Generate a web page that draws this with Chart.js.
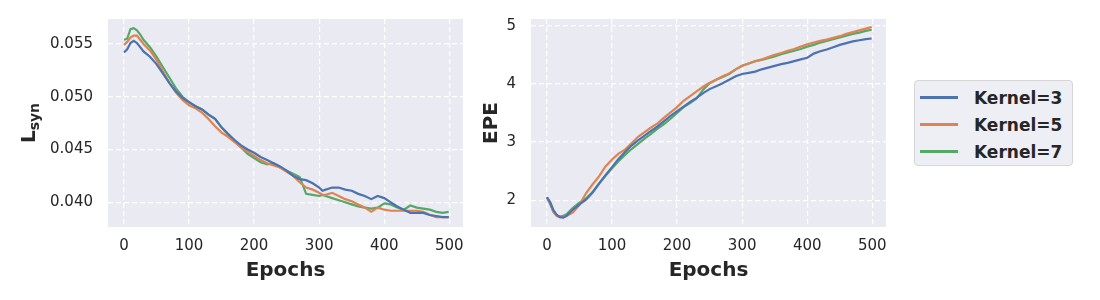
<!DOCTYPE html>
<html lang="en">
<head>
  <meta charset="UTF-8">
  <title>Kernel size: L_syn and EPE</title>
  <script src="https://cdn.jsdelivr.net/npm/chart.js"></script>
</head>
<body style="margin:0;width:1100px;height:300px;background:#fff;position:relative;overflow:hidden;font-family:'DejaVu Sans',sans-serif;">
  <canvas id="lsynChart" width="480" height="300" style="position:absolute;left:0;top:0;"></canvas>
  <canvas id="epeChart" width="420" height="300" style="position:absolute;left:480px;top:0;"></canvas>
  <div id="legend" style="position:absolute;left:914px;top:80px;width:157px;height:84px;
    background:#eeeef5;border:1px solid #d6d6d6;border-radius:4px;box-sizing:content-box;"></div>
  <script>
    // series names + seaborn "deep" colours
    const seriesNames = ['Kernel=3', 'Kernel=5', 'Kernel=7'];
    const seriesColors = ['#4c72b0', '#dd8452', '#55a868'];

    // left panel: L_syn vs epochs
    const lsynEpochs = [0,5,10,15,20,25,30,
      40,50,60,70,80,90,100,110,120,130,140,150,160,170,180,190,200,210,220,230,240,250,260,270,280,290,300,
      305,
      310,320,330,340,350,360,370,380,390,400,410,420,430,440,450,460,470,480,490,
      499];
    const lsynK3 = [0.0542,0.0545,0.0551,0.0553,0.0551,0.0547,0.0543,
      0.0538,0.0531,0.0522,0.0513,0.0505,0.0499,0.0495,0.0491,0.0488,0.0483,0.0479,0.0471,0.0465,0.0459,0.0454,0.0450,0.0447,0.0443,0.0440,0.0437,0.0434,0.0430,0.0425,0.0422,0.0421,0.0418,0.0414,
      0.0411,
      0.0412,0.0414,0.0414,0.0412,0.0411,0.0408,0.0406,0.0403,0.0406,0.0404,0.0400,0.0396,0.0393,0.0390,0.0390,0.0390,0.0388,0.0387,0.0386,
      0.0386];
    const lsynK5 = [0.0549,0.0552,0.0556,0.0558,0.0558,0.0554,0.0550,
      0.0544,0.0535,0.0524,0.0513,0.0504,0.0497,0.0492,0.0489,0.0485,0.0479,0.0472,0.0466,0.0462,0.0457,0.0452,0.0448,0.0444,0.0440,0.0437,0.0435,0.0433,0.0429,0.0425,0.0419,0.0414,0.0412,0.0409,
      0.0407,
      0.0407,0.0409,0.0406,0.0403,0.0401,0.0398,0.0395,0.0391,0.0395,0.0393,0.0392,0.0392,0.0392,0.0392,0.0392,0.0391,0.0388,0.0386,0.0386,
      0.0386];
    const lsynK7 = [0.0554,0.0555,0.0564,0.0565,0.0563,0.0559,0.0554,
      0.0547,0.0538,0.0528,0.0518,0.0508,0.0500,0.0495,0.0491,0.0488,0.0483,0.0479,0.0471,0.0464,0.0458,0.0452,0.0446,0.0442,0.0438,0.0436,0.0437,0.0433,0.0430,0.0427,0.0424,0.0408,0.0407,0.0406,
      0.0407,
      0.0406,0.0404,0.0402,0.0400,0.0398,0.0396,0.0395,0.0394,0.0395,0.0399,0.0398,0.0395,0.0393,0.0397,0.0395,0.0394,0.0393,0.0391,0.0390,
      0.0391];
    const lsynTicks = [0.040, 0.045, 0.050, 0.055];

    // right panel: EPE vs epochs
    const epeEpochs = [0,5,10,15,20,25,30,
      40,50,60,70,80,90,100,110,120,130,140,150,160,170,180,190,200,210,220,230,240,250,260,270,280,290,
      300,310,320,330,340,350,360,370,380,390,400,410,420,430,440,450,460,470,480,490,
      499];
    const epeK3 = [2.05,1.97,1.83,1.75,1.71,1.70,1.73,
      1.84,1.93,2.01,2.13,2.28,2.43,2.57,2.71,2.83,2.94,3.03,3.11,3.19,3.27,3.36,3.45,3.53,3.61,3.69,3.76,3.84,3.91,3.96,4.01,4.07,4.13,
      4.17,4.19,4.21,4.25,4.28,4.31,4.34,4.36,4.39,4.42,4.45,4.52,4.56,4.59,4.63,4.67,4.70,4.73,4.75,4.77,
      4.78];
    const epeK5 = [2.05,1.95,1.80,1.73,1.71,1.71,1.73,
      1.79,1.92,2.12,2.27,2.41,2.58,2.70,2.80,2.87,2.98,3.09,3.17,3.25,3.32,3.42,3.51,3.60,3.71,3.79,3.87,3.95,4.02,4.07,4.13,4.18,4.25,
      4.31,4.35,4.39,4.42,4.46,4.50,4.53,4.57,4.60,4.64,4.68,4.71,4.74,4.76,4.79,4.82,4.86,4.89,4.92,4.95,
      4.98];
    const epeK7 = [2.05,1.93,1.80,1.74,1.72,1.73,1.76,
      1.87,1.96,2.03,2.14,2.29,2.42,2.55,2.67,2.78,2.88,2.97,3.06,3.14,3.23,3.31,3.40,3.50,3.60,3.67,3.75,3.90,4.01,4.07,4.12,4.17,4.25,
      4.31,4.35,4.39,4.41,4.44,4.47,4.51,4.54,4.57,4.60,4.64,4.67,4.71,4.74,4.77,4.80,4.83,4.86,4.88,4.91,
      4.93];
    const epeTicks = [2, 3, 4, 5];

    const epochTicks = [0, 100, 200, 300, 400, 500];

    Chart.defaults.font.family = "'DejaVu Sans', sans-serif";
    Chart.defaults.color = '#262626';

    // grey axes background like seaborn darkgrid
    const areaBg = {
      id: 'areaBg',
      beforeDraw(chart) {
        const {ctx, chartArea: a} = chart;
        ctx.save();
        ctx.fillStyle = '#eaeaf2';
        ctx.fillRect(a.left, a.top, a.right - a.left, a.bottom - a.top);
        ctx.restore();
      }
    };

    function makeDatasets(epochs, series) {
      return series.map((vals, i) => ({
        label: seriesNames[i],
        data: vals.map((v, j) => ({x: epochs[j], y: v})),
        borderColor: seriesColors[i],
        backgroundColor: seriesColors[i],
        borderWidth: 2.2,
        pointRadius: 0,
        tension: 0,
        fill: false
      }));
    }

    function makeOptions(yMin, yMax, yTicks, yFmt, yWidth, padRight, yTitle) {
      return {
        responsive: false,
        animation: false,
        devicePixelRatio: 1,
        layout: { padding: { top: 19, right: padRight, left: 0, bottom: 0 } },
        plugins: { legend: { display: false }, tooltip: { enabled: false } },
        scales: {
          x: {
            type: 'linear', min: -24.5, max: 521,
            afterBuildTicks: s => { s.ticks = epochTicks.map(v => ({value: v})); },
            afterFit: s => { s.height = 73; s.paddingLeft = 0; s.paddingRight = 0; },
            grid: { color: '#ffffff', lineWidth: 1.2, drawTicks: false },
            border: { display: false, dash: [5, 3] },
            ticks: { padding: 10, font: { size: 15 }, color: '#262626' },
            title: { display: true, text: 'Epochs', font: { size: 20, weight: 'bold' }, color: '#262626', padding: { top: 0, bottom: 17 } }
          },
          y: {
            type: 'linear', min: yMin, max: yMax,
            afterBuildTicks: s => { s.ticks = yTicks.map(v => ({value: v})); },
            afterFit: s => { s.width = yWidth; s.paddingTop = 0; s.paddingBottom = 0; },
            grid: { color: '#ffffff', lineWidth: 1.2, drawTicks: false },
            border: { display: false, dash: [5, 3] },
            ticks: { padding: 15, font: { size: 15 }, color: '#262626', callback: yFmt },
            title: yTitle
          }
        }
      };
    }

    // L_syn label with subscript, drawn rotated on the left
    const lsynLabel = {
      id: 'lsynLabel',
      afterDraw(chart) {
        const ctx = chart.ctx;
        const cy = (chart.chartArea.top + chart.chartArea.bottom) / 2;
        ctx.save();
        ctx.translate(35, cy);
        ctx.rotate(-Math.PI / 2);
        ctx.fillStyle = '#262626';
        ctx.textBaseline = 'alphabetic';
        ctx.font = "bold 20px 'DejaVu Sans'";
        const wL = ctx.measureText('L').width;
        ctx.font = "bold 14px 'DejaVu Sans'";
        const wS = ctx.measureText('syn').width;
        const x0 = -(wL + wS) / 2;
        ctx.font = "bold 20px 'DejaVu Sans'";
        ctx.fillText('L', x0, 0);
        ctx.font = "bold 14px 'DejaVu Sans'";
        ctx.fillText('syn', x0 + wL, 4);
        ctx.restore();
      }
    };

    new Chart(document.getElementById('lsynChart'), {
      type: 'line',
      data: { datasets: makeDatasets(lsynEpochs, [lsynK3, lsynK5, lsynK7]) },
      options: makeOptions(0.03766, 0.05737, lsynTicks, v => v.toFixed(3), 108, 17, { display: false }),
      plugins: [areaBg, lsynLabel]
    });

    new Chart(document.getElementById('epeChart'), {
      type: 'line',
      data: { datasets: makeDatasets(epeEpochs, [epeK3, epeK5, epeK7]) },
      options: makeOptions(1.54, 5.115, epeTicks, v => String(v), 51, 14,
        { display: true, text: 'EPE', font: { size: 20, weight: 'bold' }, color: '#262626', padding: { top: 0, bottom: 0 } }),
      plugins: [areaBg]
    });

    // legend box on the right
    const legend = document.getElementById('legend');
    seriesNames.forEach((name, i) => {
      const row = document.createElement('div');
      row.style.cssText = `position:absolute;left:5px;top:${3 + i * 27}px;height:27px;display:flex;align-items:center;`;
      row.innerHTML = `<span style="display:inline-block;width:38px;height:3px;background:${seriesColors[i]};"></span>` +
        `<span style="margin-left:16px;font-weight:bold;font-size:17px;color:#262626;">${name}</span>`;
      legend.appendChild(row);
    });
  </script>
</body>
</html>
